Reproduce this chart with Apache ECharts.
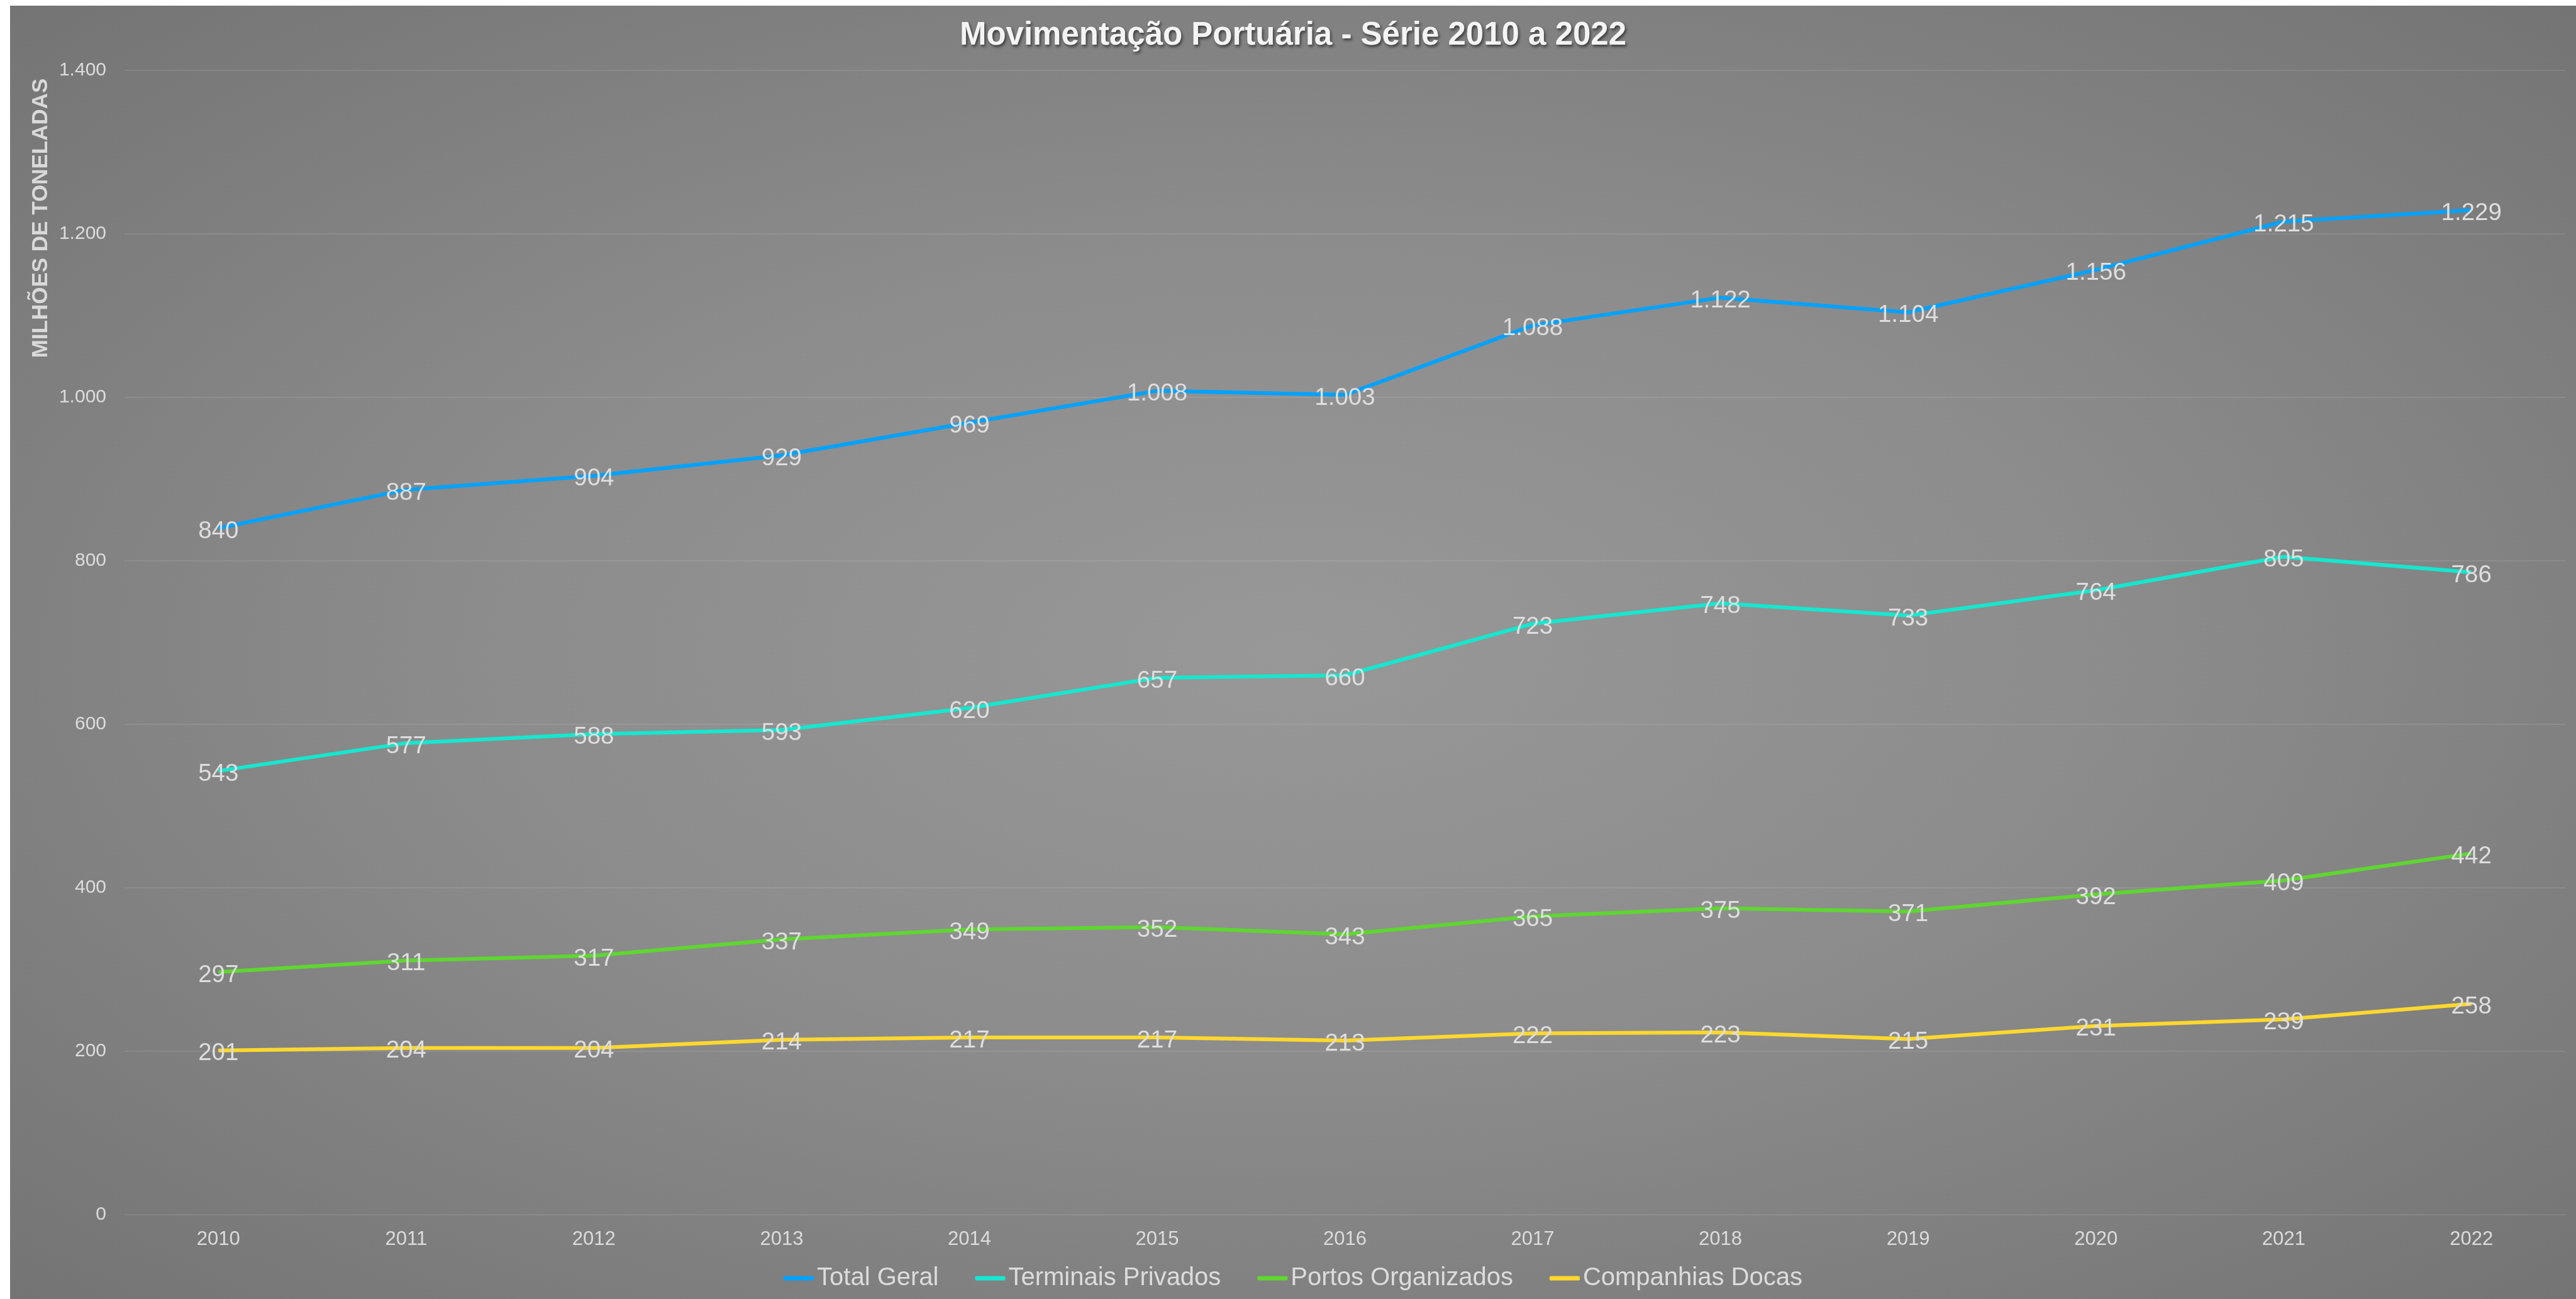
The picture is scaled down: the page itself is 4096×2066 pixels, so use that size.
<!DOCTYPE html>
<html>
<head>
<meta charset="utf-8">
<script src="https://cdn.jsdelivr.net/npm/echarts/dist/echarts.min.js"></script>
<style>
html,body{margin:0;padding:0;background:#ffffff;width:4096px;height:2066px;overflow:hidden}
#panel{position:absolute;left:16px;top:9px;width:4080px;height:2057px;
  background:radial-gradient(ellipse at 50% 50%, #989898 0%, #8c8c8c 45%, #747474 100%);}
#chart{width:4080px;height:2057px}
</style>
</head>
<body>
<div id="panel"><div id="chart"></div></div>
<script>
const years = ['2010','2011','2012','2013','2014','2015','2016','2017','2018','2019','2020','2021','2022'];
const totalGeral = [840, 887, 904, 929, 969, 1008, 1003, 1088, 1122, 1104, 1156, 1215, 1229];
const terminaisPrivados = [543, 577, 588, 593, 620, 657, 660, 723, 748, 733, 764, 805, 786];
const portosOrganizados = [297, 311, 317, 337, 349, 352, 343, 365, 375, 371, 392, 409, 442];
const companhiasDocas = [201, 204, 204, 214, 217, 217, 213, 222, 223, 215, 231, 239, 258];
const seriesNames = ['Total Geral', 'Terminais Privados', 'Portos Organizados', 'Companhias Docas'];
const seriesColors = ['#00A2FF', '#16E7CF', '#5FD631', '#FED82F'];
const yTicks = { min: 0, max: 1400, interval: 200 };

const FONT = '"Liberation Sans", Arial, Helvetica, sans-serif';
function fmt(v) { return String(v).replace(/\B(?=(\d{3})+(?!\d))/g, '.'); }

const dataSets = [totalGeral, terminaisPrivados, portosOrganizados, companhiasDocas];

const chart = echarts.init(document.getElementById('chart'), null, { renderer: 'canvas' });
chart.setOption({
  animation: false,
  backgroundColor: 'transparent',
  title: {
    text: 'Movimentação Portuária - Série 2010 a 2022',
    left: 'center',
    top: 17,
    textStyle: {
      fontFamily: FONT, fontWeight: 'bold', fontSize: 51, color: '#f4f4f4',
      textShadowColor: 'rgba(0,0,0,0.55)', textShadowBlur: 4,
      textShadowOffsetX: 2, textShadowOffsetY: 3
    }
  },
  legend: {
    data: seriesNames,
    left: 'center',
    top: 1999,
    icon: 'roundRect',
    itemWidth: 48,
    itemHeight: 7,
    itemGap: 58,
    textStyle: { fontFamily: FONT, fontSize: 40, color: '#dcdcdc' }
  },
  grid: { left: 182, right: 17, top: 103, bottom: 134, containLabel: false },
  xAxis: {
    type: 'category',
    data: years,
    boundaryGap: true,
    axisLine: { show: false },
    axisTick: { show: false },
    axisLabel: { fontFamily: FONT, fontSize: 31, color: '#dcdcdc', margin: 24 },
    splitLine: { show: false }
  },
  yAxis: {
    type: 'value',
    min: yTicks.min, max: yTicks.max, interval: yTicks.interval,
    axisLine: { show: false },
    axisTick: { show: false },
    axisLabel: { fontFamily: FONT, fontSize: 30, color: '#dcdcdc', margin: 29, formatter: v => fmt(v) },
    splitLine: { lineStyle: { color: 'rgba(255,255,255,0.12)', width: 1.5 } }
  },
  graphic: [{
    type: 'text',
    x: 49, y: 338,
    rotation: Math.PI / 2,
    style: {
      text: 'MILHÕES DE TONELADAS',
      font: 'bold 35px ' + FONT,
      fill: '#d9d9d9',
      align: 'center',
      verticalAlign: 'middle'
    }
  }],
  series: seriesNames.map((name, i) => ({
    name: name,
    type: 'line',
    data: dataSets[i],
    smooth: false,
    symbol: 'circle',
    symbolSize: 1,
    showSymbol: true,
    color: seriesColors[i],
    lineStyle: { width: 6, color: seriesColors[i] },
    itemStyle: { color: seriesColors[i] },
    label: {
      show: true,
      position: 'inside',
      offset: [0, 5],
      fontFamily: FONT,
      fontSize: 38.5,
      color: '#dedede',
      formatter: p => fmt(p.value)
    },
    emphasis: { disabled: true }
  }))
});
</script>
</body>
</html>
